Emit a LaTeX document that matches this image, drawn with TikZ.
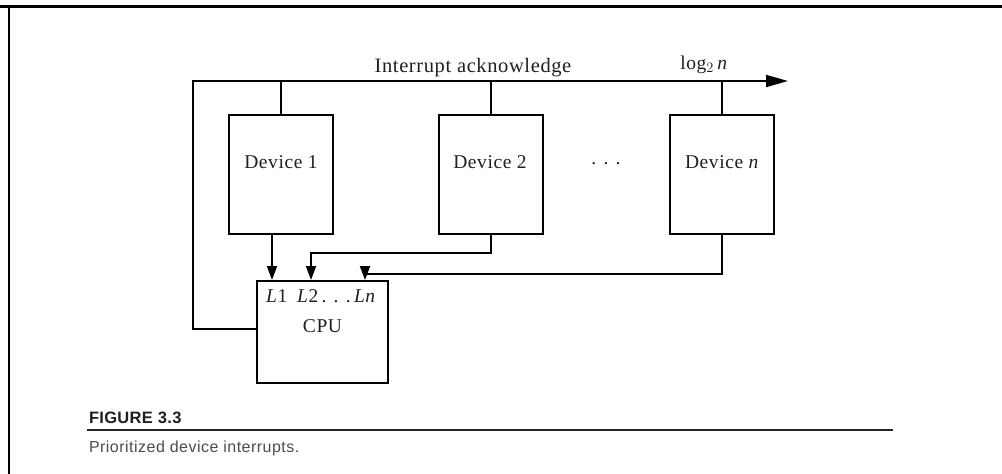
\documentclass[tikz,border=0pt]{standalone}
\usepackage{fontspec}
\setmainfont{Liberation Serif}[LetterSpace=3]
\newfontfamily\capfont{Liberation Sans}
\usetikzlibrary{arrows.meta}
\begin{document}
\begin{tikzpicture}[x=1pt,y=-1pt, line width=2pt,
  devbox/.style={draw, line width=2pt, minimum width=104pt, minimum height=119pt, inner sep=0pt},
  cpubox/.style={draw, line width=2pt, minimum width=131pt, minimum height=102pt, inner sep=0pt},
  lbl/.style={font=\fontsize{19.5}{22}\selectfont, inner sep=0pt, text=black!88},
  conn/.style={line width=2pt, -{Triangle[length=14pt,width=10pt]}},
  busarrow/.style={line width=2pt, -{Triangle[length=22pt,width=12pt]}},
  ]
\useasboundingbox (0,0) rectangle (1002,474);
% frame
\coordinate (fTL) at (0,6);
\coordinate (fTR) at (1002,6);
\coordinate (fLT) at (9,6);
\coordinate (fLB) at (9,474);
\draw[line width=3pt] (fTL) -- (fTR);
\draw[line width=2pt] (fLT) -- (fLB);

% devices
\node[devbox] (d1) at (281,174.5) {};
\node[devbox] (d2) at (491,174.5) {};
\node[devbox] (dn) at (722,174.5) {};
\node[lbl] (t1) at (281,162) {Device 1};
\node[lbl] (t2) at (490,162) {Device 2};
\node[lbl] (tn) at (722,162) {Device \textit{n}};
\node[lbl] (dots) at (606,164) {. . .};

% CPU
\node[cpubox] (cpu) at (322.5,332) {};
\node[lbl] (ls) at (321,296) {\textit{L}1\enspace\textit{L}2\,. . .\,\textit{Ln}};
\node[lbl] (cputxt) at (322.5,326) {CPU};

% bus
\coordinate (busL) at (193,81);
\coordinate (busR) at (788,81);
\coordinate (loopy) at (0,329);
\node[lbl, anchor=base, font=\fontsize{20.5}{22}\selectfont] (ia) at (473,72) {Interrupt acknowledge};
\node[lbl, anchor=base] (lg) at (704,69) {log$_2$\,\textit{n}};
\draw[busarrow] (cpu.west |- loopy) -| (busL) -- (busR);
\draw (d1.north) -- (d1.north |- busL);
\draw (d2.north) -- (d2.north |- busL);
\draw (dn.north) -- (dn.north |- busL);

% interrupt lines
\coordinate (x1) at (272,0);
\coordinate (j2) at (311,253);
\coordinate (jn) at (365,274);
\draw[conn] (d1.south -| x1) -- (cpu.north -| x1);
\draw[conn] (d2.south) |- (j2) -- (cpu.north -| j2);
\draw[conn] (dn.south) |- (jn) -- (cpu.north -| jn);

% caption
\node[anchor=base west, inner sep=0pt, font=\capfont\bfseries\addfontfeature{LetterSpace=2}\fontsize{16.5}{18}\selectfont, text=black!88] (fig) at (88,423) {FIGURE 3.3};
\coordinate (rL) at (87,430);
\coordinate (rR) at (893,430);
\draw[line width=2.5pt, black!85] (rL) -- (rR);
\node[anchor=base west, inner sep=0pt, font=\capfont\addfontfeature{LetterSpace=3}\fontsize{16}{20}\selectfont, text=black!70] (cap) at (88,452) {Prioritized device interrupts.};
\end{tikzpicture}
\end{document}
